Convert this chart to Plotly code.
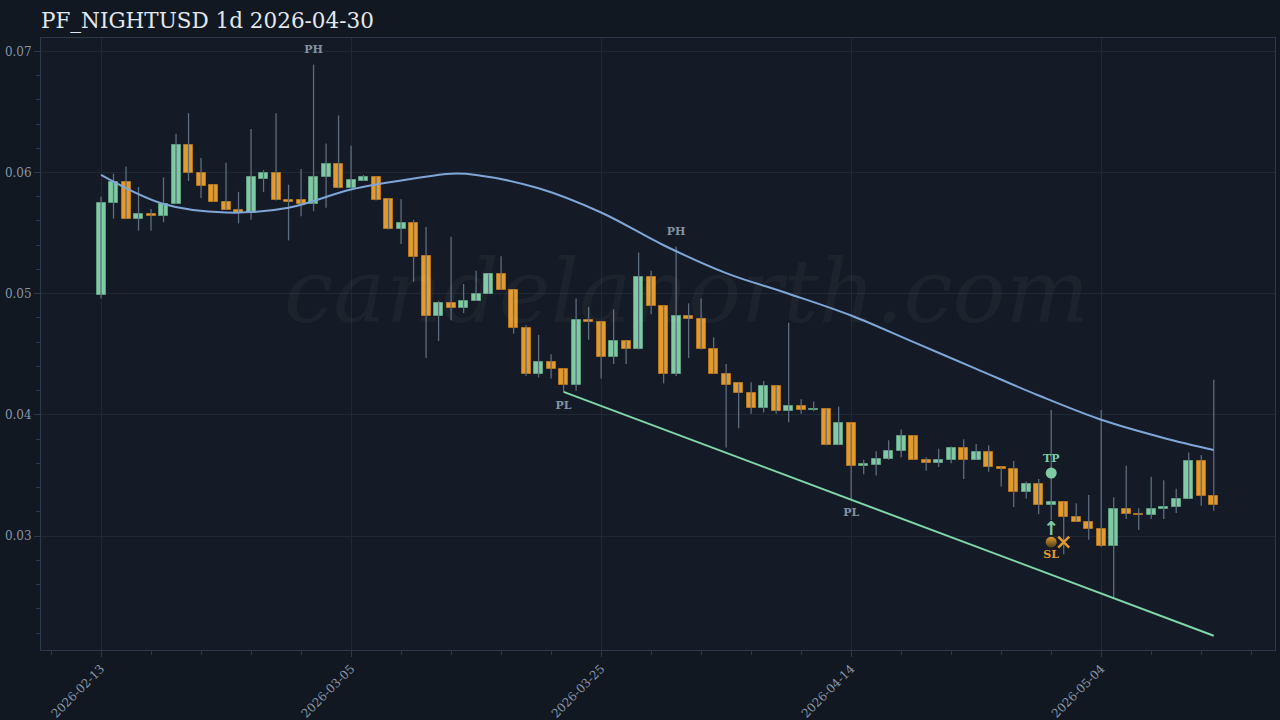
import pandas as pd
import plotly.graph_objects as go

# ---------------- data ----------------
start_date = "2026-02-13"
opens = [0.0499,0.0575,0.0592,0.0562,0.0566,0.0564,0.0574,0.0623,0.0600,0.0590,
         0.0576,0.0569,0.0567,0.0595,0.0600,0.0577,0.0577,0.0574,0.0596,0.0607,
         0.0587,0.0593,0.0596,0.0578,0.0553,0.0558,0.0531,0.0482,0.0492,0.0488,
         0.0494,0.0500,0.0516,0.0503,0.0472,0.0434,0.0444,0.0438,0.0425,0.0478,
         0.0477,0.0448,0.0461,0.0454,0.0514,0.0490,0.0434,0.0482,0.0479,0.0454,
         0.0434,0.0426,0.0418,0.0406,0.0424,0.0403,0.0407,0.0404,0.0405,0.0375,
         0.0393,0.0358,0.0359,0.0364,0.0370,0.0383,0.0363,0.0360,0.0363,0.0373,
         0.0363,0.0369,0.0357,0.0355,0.0336,0.0343,0.0326,0.0328,0.0316,0.0312,
         0.0306,0.0292,0.0322,0.0318,0.0317,0.0322,0.0324,0.0331,0.0362,0.0333]
highs = [0.0580,0.0599,0.0605,0.0588,0.0570,0.0596,0.0632,0.0649,0.0612,0.0590,
         0.0608,0.0584,0.0636,0.0602,0.0649,0.0590,0.0603,0.0689,0.0624,0.0647,
         0.0622,0.0598,0.0596,0.0578,0.0578,0.0561,0.0555,0.0494,0.0547,0.0508,
         0.0519,0.0516,0.0531,0.0503,0.0474,0.0466,0.0450,0.0438,0.0496,0.0489,
         0.0477,0.0487,0.0461,0.0534,0.0519,0.0490,0.0539,0.0492,0.0496,0.0464,
         0.0442,0.0426,0.0427,0.0428,0.0424,0.0476,0.0413,0.0411,0.0405,0.0407,
         0.0393,0.0363,0.0370,0.0379,0.0388,0.0383,0.0365,0.0372,0.0374,0.0380,
         0.0376,0.0375,0.0357,0.0362,0.0345,0.0347,0.0404,0.0328,0.0327,0.0334,
         0.0404,0.0332,0.0358,0.0323,0.0349,0.0346,0.0339,0.0369,0.0367,0.0429]
lows = [0.0496,0.0562,0.0562,0.0552,0.0552,0.0559,0.0574,0.0593,0.0579,0.0576,
        0.0569,0.0558,0.0561,0.0584,0.0577,0.0544,0.0564,0.0568,0.0571,0.0587,
        0.0587,0.0593,0.0577,0.0553,0.0541,0.0510,0.0447,0.0461,0.0478,0.0484,
        0.0494,0.0500,0.0503,0.0467,0.0432,0.0431,0.0430,0.0419,0.0420,0.0462,
        0.0430,0.0442,0.0442,0.0454,0.0483,0.0426,0.0432,0.0447,0.0454,0.0434,
        0.0373,0.0389,0.0401,0.0402,0.0401,0.0394,0.0401,0.0403,0.0375,0.0375,
        0.0330,0.0351,0.0350,0.0363,0.0365,0.0363,0.0354,0.0357,0.0360,0.0347,
        0.0363,0.0353,0.0341,0.0324,0.0331,0.0318,0.0313,0.0285,0.0312,0.0297,
        0.0291,0.0249,0.0314,0.0305,0.0314,0.0314,0.0319,0.0331,0.0325,0.0321]
closes = [0.0575,0.0592,0.0562,0.0566,0.0564,0.0574,0.0623,0.0600,0.0589,0.0576,
          0.0569,0.0567,0.0596,0.0600,0.0577,0.0576,0.0574,0.0596,0.0607,0.0587,
          0.0594,0.0596,0.0577,0.0553,0.0558,0.0530,0.0482,0.0492,0.0488,0.0494,
          0.0500,0.0516,0.0503,0.0472,0.0434,0.0444,0.0438,0.0425,0.0478,0.0477,
          0.0448,0.0461,0.0454,0.0514,0.0490,0.0434,0.0482,0.0479,0.0454,0.0434,
          0.0425,0.0418,0.0406,0.0424,0.0403,0.0407,0.0404,0.0405,0.0375,0.0393,
          0.0358,0.0359,0.0364,0.0370,0.0383,0.0363,0.0360,0.0363,0.0373,0.0363,
          0.0369,0.0357,0.0355,0.0336,0.0343,0.0326,0.0328,0.0316,0.0312,0.0306,
          0.0292,0.0322,0.0318,0.0317,0.0322,0.0324,0.0331,0.0362,0.0333,0.0326]

# smoothed basis line, read every 5 candles
basis_idx = [0, 5, 10, 15, 20, 25, 28, 30, 35, 40, 45, 50, 55, 60, 65, 70, 75, 80, 85, 89]
basis_val = [0.0598, 0.0574, 0.0567, 0.0571, 0.0586, 0.0595, 0.0599, 0.0598, 0.0587, 0.0567,
             0.0540, 0.0517, 0.0500, 0.0482, 0.0460, 0.0438, 0.0416, 0.0396, 0.0381, 0.0371]

pivot_high_idx = [17, 46]
pivot_low_idx = [37, 60]

signal_idx = 76
exit_idx = 77
tp_price = 0.0352
sl_price = 0.0295
arrow_price = 0.0305

title_text = "PF_NIGHTUSD 1d 2026-04-30"
watermark = "candelanorth.com"

# ---------------- derived ----------------
dates = pd.date_range(start_date, periods=len(opens), freq="D")
DAY = pd.Timedelta(days=1)

BG = "#111821"
PLOT_BG = "#141b26"
GRID = "#1e2935"
AXIS = "#2a3a4a"
TICK = "#8795a8"
UP = "#7ecba3"
DOWN = "#e39a2b"
WICK = "#5d6c7e"
FONT = "DejaVu Serif"

fig = go.Figure()

# wicks
wx, wy = [], []
for d, h, l in zip(dates, highs, lows):
    wx += [d, d, None]
    wy += [l, h, None]
fig.add_trace(go.Scatter(x=wx, y=wy, mode="lines", line=dict(color=WICK, width=1.3),
                         hoverinfo="skip", showlegend=False))

# bodies
min_h = 0.00012
for up in (True, False):
    xs, base, hgt = [], [], []
    for d, o, c in zip(dates, opens, closes):
        if (c >= o) == up:
            xs.append(d)
            base.append(min(o, c))
            hgt.append(max(abs(c - o), min_h))
    fig.add_trace(go.Bar(
        x=xs, y=hgt, base=base, width=0.72 * 86400000,
        marker=dict(color=UP if up else DOWN,
                    line=dict(color="#5e9e7e" if up else "#b5751a", width=1)),
        showlegend=False, hoverinfo="skip"))

# basis line
fig.add_trace(go.Scatter(x=[dates[i] for i in basis_idx], y=basis_val, mode="lines",
                         line=dict(color="#7fa6d6", width=2, shape="spline", smoothing=1.0),
                         hoverinfo="skip", showlegend=False))

# lower trendline through pivot lows, extended to last candle
i1, i2 = pivot_low_idx
l1, l2 = lows[i1], lows[i2]
slope = (l2 - l1) / (i2 - i1)
last = len(opens) - 1
fig.add_trace(go.Scatter(x=[dates[i1], dates[last]], y=[l1, l1 + slope * (last - i1)],
                         mode="lines", line=dict(color="#7fd6a8", width=2),
                         hoverinfo="skip", showlegend=False))

# pivot labels (invisible markers push the text away from the wick ends)
fig.add_trace(go.Scatter(x=[dates[i] for i in pivot_high_idx], y=[highs[i] for i in pivot_high_idx],
                         mode="markers+text", text=["<b>PH</b>"] * len(pivot_high_idx),
                         marker=dict(size=12, opacity=0),
                         textposition="top center",
                         textfont=dict(family=FONT, size=11, color="#8391a3"),
                         hoverinfo="skip", showlegend=False))
fig.add_trace(go.Scatter(x=[dates[i] for i in pivot_low_idx], y=[lows[i] for i in pivot_low_idx],
                         mode="markers+text", text=["<b>PL</b>"] * len(pivot_low_idx),
                         marker=dict(size=12, opacity=0),
                         textposition="bottom center",
                         textfont=dict(family=FONT, size=11, color="#8391a3"),
                         hoverinfo="skip", showlegend=False))

# TP marker
fig.add_trace(go.Scatter(x=[dates[signal_idx]], y=[tp_price], mode="markers+text",
                         marker=dict(symbol="circle", size=11, color=UP),
                         text=["<b>TP</b>"], textposition="top center",
                         textfont=dict(family=FONT, size=11, color=UP),
                         hoverinfo="skip", showlegend=False))
# SL marker
fig.add_trace(go.Scatter(x=[dates[signal_idx]], y=[sl_price], mode="markers+text",
                         marker=dict(symbol="circle", size=11, color=DOWN,
                                     gradient=dict(type="vertical", color="#4a3a20")),
                         text=["<b>SL</b>"], textposition="bottom center",
                         textfont=dict(family=FONT, size=11, color=DOWN),
                         hoverinfo="skip", showlegend=False))
# entry arrow
fig.add_trace(go.Scatter(x=[dates[signal_idx]], y=[arrow_price], mode="text",
                         text=["<b>↑</b>"], textposition="middle center",
                         textfont=dict(family="DejaVu Sans", size=19, color=UP),
                         hoverinfo="skip", showlegend=False))
# exit X
fig.add_trace(go.Scatter(x=[dates[exit_idx]], y=[sl_price], mode="markers",
                         marker=dict(symbol="x-thin", size=11, line=dict(color=DOWN, width=2.5)),
                         hoverinfo="skip", showlegend=False))

fig.add_annotation(text=watermark, xref="paper", yref="paper", x=0.523, y=0.585,
                   showarrow=False,
                   font=dict(family=FONT, size=88, color="rgba(255,255,255,0.035)", style="italic"))

fig.update_layout(
    width=1280, height=720,
    paper_bgcolor=BG, plot_bgcolor=PLOT_BG,
    margin=dict(l=41, r=5, t=38, b=70),
    barmode="overlay", bargap=0,
    title=dict(text=title_text, x=0.032, xanchor="left", y=0.971, yanchor="middle",
               font=dict(family=FONT, size=21.5, color="#e4e8ee")),
    font=dict(family=FONT, color=TICK, size=12),
    showlegend=False,
)
fig.update_xaxes(
    type="date", automargin=False,
    range=[dates[0] - 4.8 * DAY, dates[0] + 93.9 * DAY],
    tick0=start_date, dtick=20 * 86400000, tickformat="%Y-%m-%d",
    tickangle=-45, ticks="outside", ticklen=6, tickcolor=AXIS,
    showgrid=True, gridcolor=GRID, gridwidth=1,
    showline=True, linecolor=AXIS, mirror=True,
    minor=dict(tick0=start_date, dtick=4 * 86400000, ticks="outside", ticklen=4,
               tickcolor=AXIS, showgrid=False),
    tickfont=dict(family=FONT, size=12, color=TICK),
    zeroline=False, rangeslider=dict(visible=False),
)
fig.update_yaxes(
    range=[0.0206, 0.0711], automargin=False,
    tick0=0, dtick=0.01, tickformat=".2f",
    ticks="outside", ticklen=6, tickcolor=AXIS,
    showgrid=True, gridcolor=GRID, gridwidth=1,
    showline=True, linecolor=AXIS, mirror=True,
    minor=dict(dtick=0.002, ticks="outside", ticklen=4, tickcolor=AXIS, showgrid=False),
    tickfont=dict(family=FONT, size=12, color=TICK),
    zeroline=False,
)

fig.write_html("out.html", config={"displayModeBar": False},
               post_script="document.body.style.margin='0';document.body.style.background='#111821';")
